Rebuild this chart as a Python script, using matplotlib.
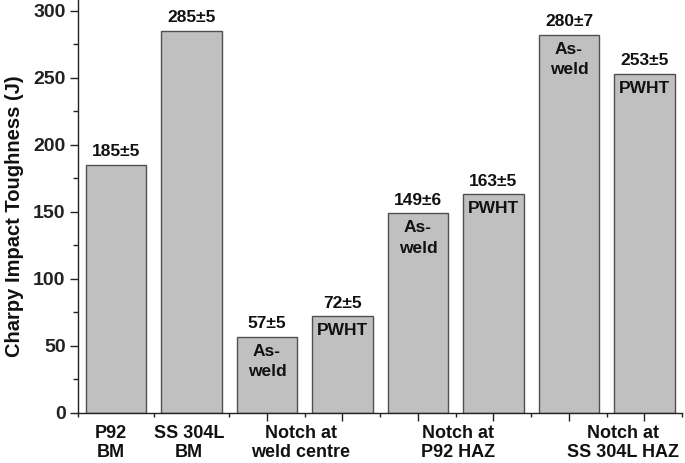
import numpy as np
import matplotlib
matplotlib.use("Agg")
import matplotlib.pyplot as plt
from matplotlib.ticker import FixedLocator
import matplotlib.transforms as mtransforms

# data
toughness = [185, 285, 57, 72, 149, 163, 282, 253]
top_labels = ["185±5", "285±5", "57±5", "72±5", "149±6", "163±5", "280±7", "253±5"]
inner_labels = ["", "", "As-\nweld", "PWHT", "As-\nweld", "PWHT", "As-\nweld", "PWHT"]
group_labels = ["P92\nBM", "SS 304L\nBM", "Notch at\nweld centre", "Notch at\nP92 HAZ", "Notch at\nSS 304L HAZ"]
group_pos = [0.93, 1.97, 3.45, 5.53, 7.72]

plt.rcParams['font.family'] = ['Liberation Sans', 'DejaVu Sans']
plt.rcParams['font.weight'] = 'bold'

fig = plt.figure(figsize=(6.85, 4.63), dpi=100)
ax = fig.add_axes([0.114, 0.108, 0.882, 0.892])

x = np.arange(1, len(toughness) + 1)
bars = ax.bar(x, toughness, width=0.8, color='#c0c0c0', edgecolor='#505050', linewidth=1.0)

for xi, v, t, inner in zip(x, toughness, top_labels, inner_labels):
    ax.annotate(t, (xi, v), xytext=(0, 4), textcoords='offset points',
                ha='center', va='bottom', fontsize=12.5, fontweight='bold', color='#111111')
    if inner:
        ax.annotate(inner, (xi, v), xytext=(0, -5), textcoords='offset points',
                    ha='center', va='top', fontsize=12.5, fontweight='bold', color='#111111',
                    linespacing=1.45)

ax.set_xlim(0.5, 8.5)
ax.set_ylim(0, 308)
ax.set_yticks(np.arange(0, 301, 50))
ax.yaxis.set_minor_locator(FixedLocator(np.arange(25, 300, 50)))
ax.set_xticks(np.arange(3, 9))
ax.set_xticklabels([])
ax.xaxis.set_minor_locator(FixedLocator(np.arange(0.5, 8.6, 1.0)))

ax.tick_params(axis='y', which='major', direction='out', length=6, width=1,
               labelsize=14, colors='#222222', pad=3)
ax.tick_params(axis='y', which='minor', direction='out', length=3.5, width=1, colors='#222222')
ax.tick_params(axis='x', which='major', direction='out', length=5.5, width=1, colors='#222222')
ax.tick_params(axis='x', which='minor', direction='out', length=3, width=1, colors='#222222')
for lab in ax.get_yticklabels():
    lab.set_fontweight('bold')

for s in ['top', 'right']:
    ax.spines[s].set_visible(False)
for s in ['left', 'bottom']:
    ax.spines[s].set_color('#222222')
    ax.spines[s].set_linewidth(1.0)

trans = mtransforms.blended_transform_factory(ax.transData, ax.transAxes)
for gx, gl in zip(group_pos, group_labels):
    ax.text(gx, -0.03, gl, transform=trans, ha='center', va='top',
            fontsize=13, fontweight='bold', color='#111111', linespacing=1.12)

ax.set_ylabel("Charpy Impact Toughness (J)", fontsize=14.5, fontweight='bold',
              color='#111111')
ax.yaxis.set_label_coords(-0.09, 0.477)

fig.savefig("out.png", dpi=100)
